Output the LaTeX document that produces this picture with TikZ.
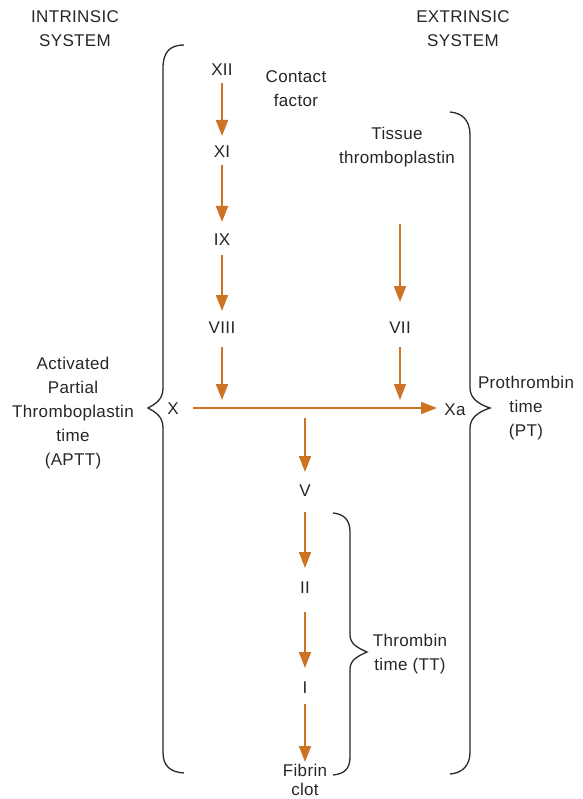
\documentclass[tikz,border=0pt]{standalone}
\usepackage{fontspec}
\setmainfont[LetterSpace=2]{Liberation Sans}
\usetikzlibrary{arrows.meta}
\definecolor{arr}{RGB}{205,115,35}
\definecolor{brc}{RGB}{40,40,40}
\begin{document}
\begin{tikzpicture}[x=1pt,y=-1pt,
  lbl/.style={inner sep=0pt,align=center,text=black!85,font=\fontsize{17}{24}\selectfont},
  flow/.style={draw=arr,line width=1.8pt,-{Triangle[length=16pt,width=12pt]}},
  brace/.style={draw=brc,line width=1.3pt}]
\useasboundingbox (0,0) rectangle (582,799);
% headings
\node[lbl] (intr) at (75,29) {INTRINSIC\\SYSTEM};
\node[lbl] (extr) at (463,29) {EXTRINSIC\\SYSTEM};
% factors
\node[lbl] (xii) at (222,70) {XII};
\node[lbl] (xi) at (222,152) {XI};
\node[lbl] (ix) at (222,240) {IX};
\node[lbl] (viii) at (222,328) {VIII};
\node[lbl] (contact) at (296,89) {Contact\\factor};
\node[lbl] (tissue) at (397,147) {Tissue\\thromboplastin};
\node[lbl] (vii) at (400,328) {VII};
\node[lbl] (x) at (173,409) {X};
\node[lbl] (xa) at (455,410) {Xa};
\node[lbl] (v) at (305,491) {V};
\node[lbl] (ii) at (305,588) {II};
\node[lbl] (i) at (305,688) {I};
\node[lbl,font=\fontsize{17}{19}\selectfont] (fibrin) at (305,780) {Fibrin\\clot};
\node[lbl] (aptt) at (73,413) {Activated\\Partial\\Thromboplastin\\time\\(APTT)};
\node[lbl] (pt) at (526,408) {Prothrombin\\time\\(PT)};
\node[lbl] (tt) at (410,654) {Thrombin\\time (TT)};
% connector coordinates
\coordinate (hl) at (193,408);
\coordinate (hr) at (437,408);
\coordinate (viiiend) at (222,400);
\coordinate (viiend) at (400,400);
\coordinate (tisstart) at (400,224);
\coordinate (tisend) at (400,302);
\coordinate (vstart) at (305,418);
\coordinate (vend) at (305,472);
% arrows
\draw[flow] (xii.south |- 0,83) -- (xii.south |- 0,136);
\draw[flow] (xi.south |- 0,165) -- (xi.south |- 0,222);
\draw[flow] (ix.south |- 0,255) -- (ix.south |- 0,311);
\draw[flow] (viii.south |- 0,347) -- (viiiend);
\draw[flow] (tisstart) -- (tisend);
\draw[flow] (vii.south |- 0,347) -- (viiend);
\draw[flow] (hl) -- (hr);
\draw[flow] (vstart) -- (vend);
\draw[flow] (v.south |- 0,512) -- (ii.north |- 0,568);
\draw[flow] (ii.south |- 0,612) -- (i.north |- 0,668);
\draw[flow] (i.south |- 0,704) -- (fibrin.north |- 0,762);
% left brace
\draw[brace] (184,45) .. controls (170,45) and (163,52) .. (163,68)
  -- (163,388) .. controls (163,400) and (155,404) .. (148,408)
  .. controls (155,412) and (163,416) .. (163,428)
  -- (163,752) .. controls (163,766) and (170,772) .. (184,773);
% right brace
\draw[brace] (450,112) .. controls (462,113) and (470,120) .. (470,135)
  -- (470,388) .. controls (470,398) and (478,404) .. (490,408)
  .. controls (478,412) and (470,418) .. (470,428)
  -- (470,752) .. controls (470,766) and (462,773) .. (450,774);
% thrombin brace
\draw[brace] (333,513) .. controls (344,514) and (350,520) .. (350,532)
  -- (350,635) .. controls (350,644) and (358,648) .. (367,652)
  .. controls (358,656) and (350,660) .. (350,669)
  -- (350,757) .. controls (350,769) and (344,774) .. (333,775);
\end{tikzpicture}
\end{document}
